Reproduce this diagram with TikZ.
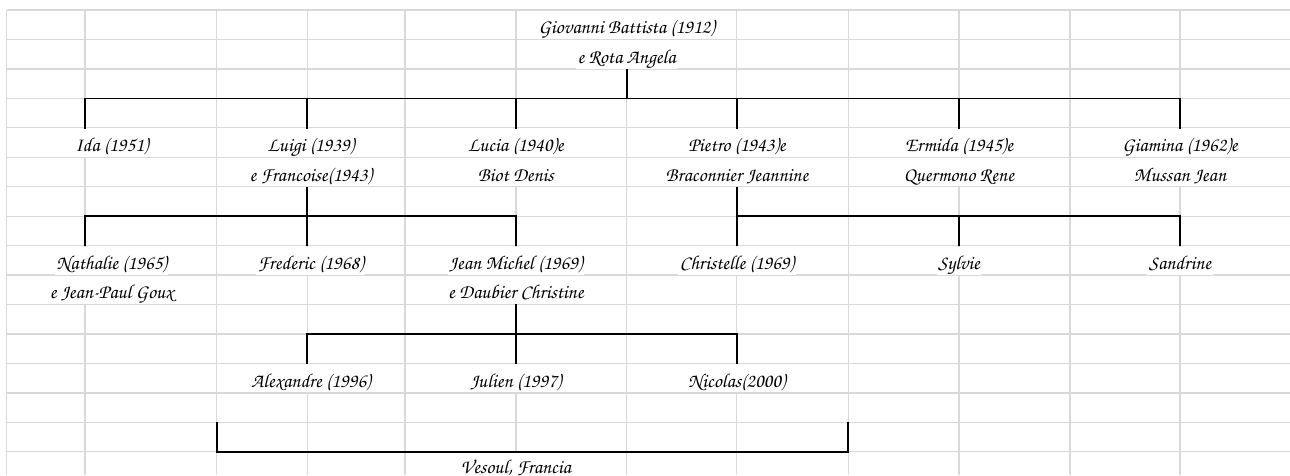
\documentclass[tikz,border=0pt]{standalone}
\usepackage{fontspec}
\newfontfamily\treefont{TeX Gyre Chorus}
\definecolor{gridc}{RGB}{217,217,217}
\tikzset{
  gridline/.style={draw=gridc, line width=1.3pt},
  tree/.style={draw=black, line width=1.7pt, line join=miter},
  lbl/.style={font=\treefont\fontsize{19.8}{19.8}\selectfont, anchor=base, fill=white,
    inner xsep=1.5pt, inner ysep=0pt, text height=22.8pt, text depth=5.25pt}
}
\begin{document}
\begin{tikzpicture}[x=1pt,y=-1pt]
\useasboundingbox (0,0) rectangle (1290,475);
\fill[white] (0,0) rectangle (1290,475);
% spreadsheet grid
\foreach \k in {0,...,15} \draw[gridline] (6.7,{10+29.45*\k}) -- (1290,{10+29.45*\k});
\foreach \x in {6.7,85,216.7,307.3,405,516,626.7,736.7,848.3,959,1070,1180}
  \draw[gridline] (\x,10) -- (\x,475);
% row reference coordinates
\coordinate (r3) at (0,98.35);
\coordinate (r7) at (0,216.15);
\coordinate (r11) at (0,333.95);
\coordinate (r14) at (0,422.3);
\coordinate (r15) at (0,451.75);
% generation 0
\node[lbl] (gio) at (626.7,33.8) {Giovanni Battista (1912)};
\node[lbl] (rota) at (626.7,63.25) {e Rota Angela};
% generation 1
\node[lbl] (ida) at (111.7,151.6) {Ida (1951)};
\node[lbl] (luigi) at (310.8,151.6) {Luigi (1939)};
\node[lbl] (lucia) at (515.8,151.6) {Lucia (1940)e};
\node[lbl] (pietro) at (737,151.6) {Pietro (1943)e};
\node[lbl] (ermida) at (959,151.6) {Ermida (1945)e};
\node[lbl] (giamina) at (1180,151.6) {Giamina (1962)e};
\node[lbl] (franc) at (310.8,181.05) {e Francoise(1943)};
\node[lbl] (biot) at (515.8,181.05) {Biot Denis};
\node[lbl] (brac) at (737,181.05) {Braconnier Jeannine};
\node[lbl] (querm) at (959,181.05) {Quermono Rene};
\node[lbl] (mussan) at (1180,181.05) {Mussan Jean};
% generation 2
\node[lbl] (nath) at (111.7,269.4) {Nathalie (1965)};
\node[lbl] (fred) at (310.8,269.4) {Frederic (1968)};
\node[lbl] (jm) at (515.8,269.4) {Jean Michel (1969)};
\node[lbl] (chris) at (737,269.4) {Christelle (1969)};
\node[lbl] (syl) at (959,269.4) {Sylvie};
\node[lbl] (sand) at (1180,269.4) {Sandrine};
\node[lbl] (goux) at (111.7,298.85) {e Jean-Paul Goux};
\node[lbl] (daub) at (515.8,298.85) {e Daubier Christine};
% generation 3
\node[lbl] (alex) at (310.8,387.2) {Alexandre (1996)};
\node[lbl] (jul) at (515.8,387.2) {Julien (1997)};
\node[lbl] (nic) at (737,387.2) {Nicolas(2000)};
\node[lbl] (ves) at (515.8,473.5) {Vesoul, Francia};
% connectors
\draw[tree] (rota.south) -- (rota.south |- r3);
\draw[tree] (85,0 |- ida.north) -- (85,0 |- r3) -- (giamina.north |- r3) -- (giamina.north);
\draw[tree] (307.3,0 |- r3) -- (307.3,0 |- luigi.north);
\draw[tree] (lucia.north |- r3) -- (lucia.north);
\draw[tree] (pietro.north |- r3) -- (pietro.north);
\draw[tree] (ermida.north |- r3) -- (ermida.north);
\draw[tree] (307.3,0 |- franc.south) -- (307.3,0 |- fred.north);
\draw[tree] (85,0 |- nath.north) -- (85,0 |- r7) -- (jm.north |- r7) -- (jm.north);
\draw[tree] (brac.south) -- (chris.north);
\draw[tree] (chris.north |- r7) -- (sand.north |- r7) -- (sand.north);
\draw[tree] (syl.north |- r7) -- (syl.north);
\draw[tree] (daub.south) -- (jul.north);
\draw[tree] (307.3,0 |- alex.north) -- (307.3,0 |- r11) -- (nic.north |- r11) -- (nic.north);
\draw[tree] (216.7,0 |- r14) -- (216.7,0 |- r15) -- (848.3,0 |- r15) -- (848.3,0 |- r14);
\end{tikzpicture}
\end{document}
